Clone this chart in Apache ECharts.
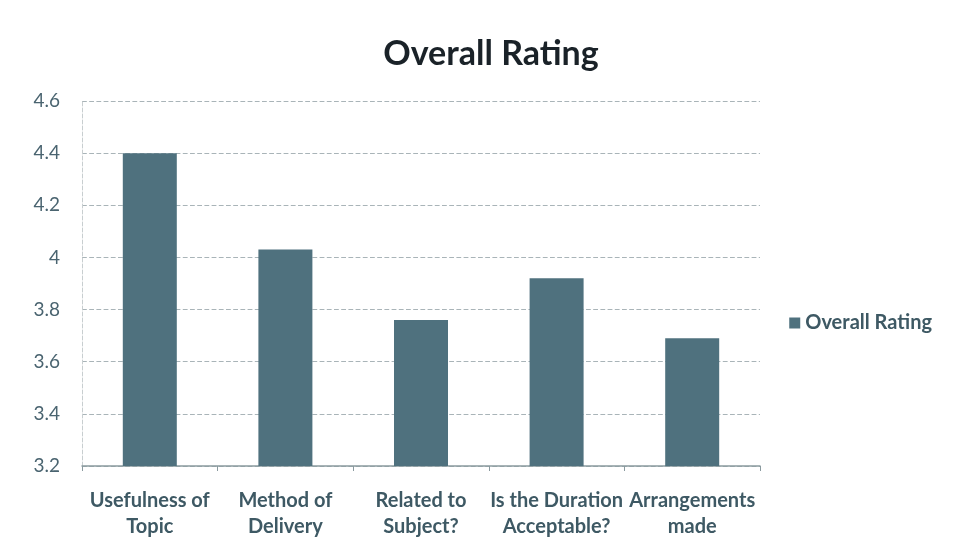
<!DOCTYPE html>
<html><head><meta charset="utf-8">
<script src="https://cdn.jsdelivr.net/npm/echarts@6/dist/echarts.min.js"></script>
<style>html,body{margin:0;padding:0;background:#fff}#c{width:957px;height:560px}</style>
</head><body><div id="c"></div>
<script>
const categories = ["Usefulness of\nTopic", "Method of\nDelivery", "Related to\nSubject?", "Is the Duration\nAcceptable?", "Arrangements\nmade"];
const ratings = [4.4, 4.03, 3.76, 3.92, 3.69];
const seriesName = "Overall Rating";
const chartTitle = "Overall Rating";

const chart = echarts.init(document.getElementById('c'));
const font = "Lato, 'Open Sans', sans-serif";
chart.setOption({
  animation: false,
  backgroundColor: '#fff',
  title: { text: chartTitle, left: 486, top: 32, textAlign: 'center',
    textStyle: { fontFamily: font, fontSize: 34, fontWeight: 'bold', color: '#1a2228' } },
  legend: { right: 20, top: 308, itemWidth: 11, itemHeight: 11, icon: 'rect', itemGap: 6,
    textStyle: { fontFamily: font, fontSize: 20, fontWeight: 'bold', color: '#3e5964' },
    data: [seriesName] },
  grid: { left: 82, right: 197, top: 101, bottom: 94 },
  xAxis: { type: 'category', data: categories,
    axisLine: { lineStyle: { color: '#8a9a9f', width: 1.5 } },
    axisTick: { show: true, length: 5, lineStyle: { color: '#8a9a9f' } },
    axisLabel: { fontFamily: font, fontSize: 20, fontWeight: 'bold', color: '#3e5964', margin: 22, lineHeight: 26, interval: 0 } },
  yAxis: { type: 'value', min: 3.2, max: 4.6, interval: 0.2,
    axisLine: { show: true, lineStyle: { color: '#c8ced0', type: 'dashed' } },
    axisTick: { show: false },
    axisLabel: { fontFamily: font, fontSize: 19, color: '#4a6470', margin: 22,
      formatter: v => (Math.round(v*10)/10).toString() },
    splitLine: { lineStyle: { color: '#a9b4b8', type: 'dashed', width: 1.2 } } },
  series: [{ name: seriesName, type: 'bar', data: ratings, barWidth: 54,
    itemStyle: { color: '#4f717e' } }]
});
</script></body></html>
